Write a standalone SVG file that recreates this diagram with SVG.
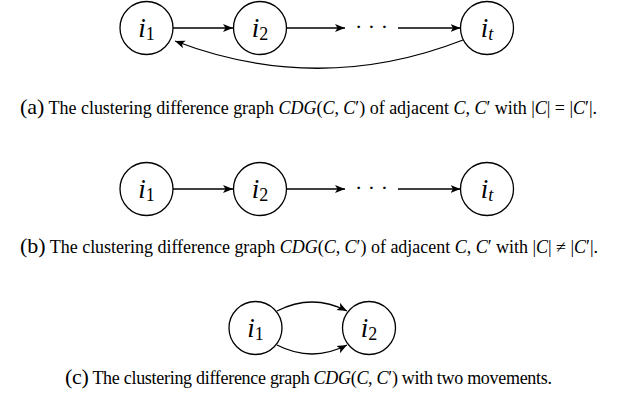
<svg xmlns="http://www.w3.org/2000/svg" width="618" height="403" viewBox="0 0 618 403">
<style>
.node circle{fill:#fff;stroke:#000;stroke-width:1.3}
.lbl{font-family:"Liberation Serif","Times New Roman",serif;font-style:italic;font-size:27px;text-anchor:middle;fill:#000}
.sub{font-style:normal;font-size:18px}
.edge{fill:none;stroke:#000;stroke-width:1.3;marker-end:url(#arr)}
.dots{font-family:"Liberation Serif","Times New Roman",serif;font-size:22px;text-anchor:middle;fill:#000}
.cap{font-family:"Liberation Serif","Times New Roman",serif;font-size:18px;fill:#000;text-anchor:middle}
.tag{font-size:22px}
.it{font-style:italic}
</style>
<defs>
<marker id="arr" markerUnits="userSpaceOnUse" markerWidth="12" markerHeight="10" refX="10" refY="4" orient="auto" viewBox="0 0 12 8">
<path d="M0,0 L10,4 L0,8 L2.5,4 z" fill="#000"/>
</marker>
</defs>

<g id="connectors">
<line class="edge" x1="173" y1="28" x2="233" y2="28"/>
<line class="edge" x1="287" y1="28" x2="345" y2="28"/>
<line class="edge" x1="398" y1="28" x2="460.5" y2="28"/>
<path class="edge" d="M463,40 Q319,96 175,41"/>
<line class="edge" x1="173" y1="189" x2="233" y2="189"/>
<line class="edge" x1="287" y1="189" x2="345" y2="189"/>
<line class="edge" x1="398" y1="189" x2="460.5" y2="189"/>
<path class="edge" d="M277,311 Q312,293 347,311"/>
<path class="edge" d="M277,345 Q312,363 347,345"/>
</g>

<g id="a-i1" class="node"><circle cx="146.5" cy="28" r="26.5"/><text class="lbl" x="146.5" y="37">i<tspan class="sub" dy="3">1</tspan></text></g>
<g id="a-i2" class="node"><circle cx="260" cy="28" r="26.5"/><text class="lbl" x="260" y="37">i<tspan class="sub" dy="3">2</tspan></text></g>
<g id="a-dots"><text class="dots" x="371.5" y="34">· · ·</text></g>
<g id="a-it" class="node"><circle cx="487" cy="28" r="26.5"/><text class="lbl" x="487" y="37">i<tspan class="sub" dy="3" style="font-style:italic">t</tspan></text></g>

<g id="b-i1" class="node"><circle cx="146.5" cy="189" r="26.5"/><text class="lbl" x="146.5" y="198">i<tspan class="sub" dy="3">1</tspan></text></g>
<g id="b-i2" class="node"><circle cx="260" cy="189" r="26.5"/><text class="lbl" x="260" y="198">i<tspan class="sub" dy="3">2</tspan></text></g>
<g id="b-dots"><text class="dots" x="371.5" y="195">· · ·</text></g>
<g id="b-it" class="node"><circle cx="487" cy="189" r="26.5"/><text class="lbl" x="487" y="198">i<tspan class="sub" dy="3" style="font-style:italic">t</tspan></text></g>

<g id="c-i1" class="node"><circle cx="255.5" cy="328" r="26.5"/><text class="lbl" x="255.5" y="337">i<tspan class="sub" dy="3">1</tspan></text></g>
<g id="c-i2" class="node"><circle cx="369" cy="328" r="26.5"/><text class="lbl" x="369" y="337">i<tspan class="sub" dy="3">2</tspan></text></g>

<g id="captions">
<text class="cap" x="308.5" y="114" textLength="577" lengthAdjust="spacing"><tspan class="tag">(a)</tspan> The clustering difference graph <tspan class="it">CDG</tspan>(<tspan class="it">C</tspan>, <tspan class="it">C</tspan>′) of adjacent <tspan class="it">C</tspan>, <tspan class="it">C</tspan>′ with |<tspan class="it">C</tspan>| = |<tspan class="it">C</tspan>′|.</text>
<text class="cap" x="309" y="253" textLength="578" lengthAdjust="spacing"><tspan class="tag">(b)</tspan> The clustering difference graph <tspan class="it">CDG</tspan>(<tspan class="it">C</tspan>, <tspan class="it">C</tspan>′) of adjacent <tspan class="it">C</tspan>, <tspan class="it">C</tspan>′ with |<tspan class="it">C</tspan>| ≠ |<tspan class="it">C</tspan>′|.</text>
<text class="cap" x="308.5" y="384" textLength="487" lengthAdjust="spacing"><tspan class="tag">(c)</tspan> The clustering difference graph <tspan class="it">CDG</tspan>(<tspan class="it">C</tspan>, <tspan class="it">C</tspan>′) with two movements.</text>
</g>
</svg>
